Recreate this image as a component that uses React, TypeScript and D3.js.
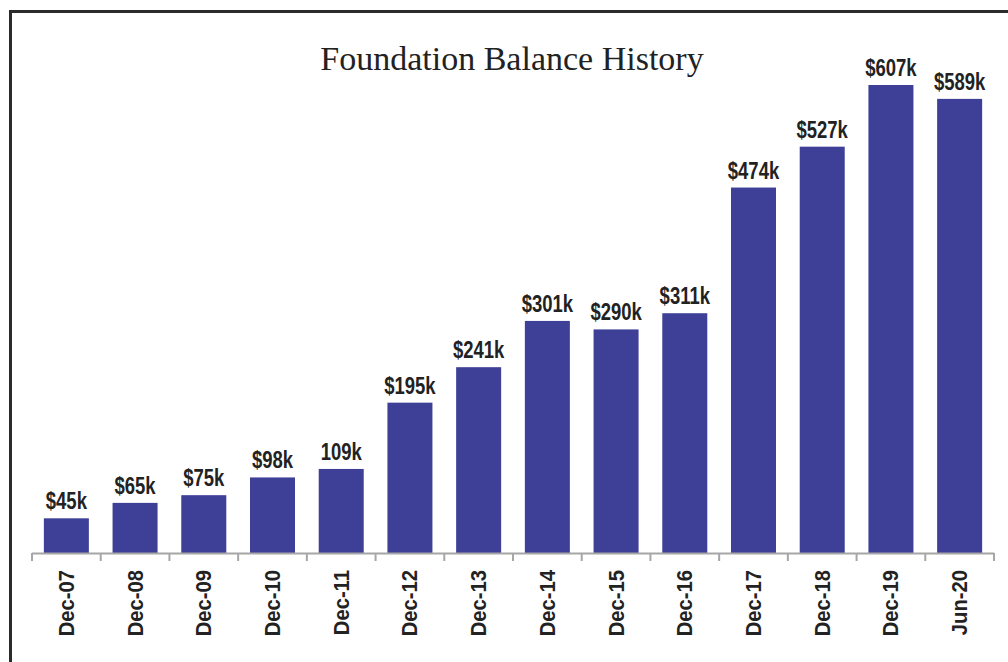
import React, { useEffect, useRef } from "react";
import * as d3 from "d3";

const categories = [
  "Dec-07", "Dec-08", "Dec-09", "Dec-10", "Dec-11", "Dec-12", "Dec-13",
  "Dec-14", "Dec-15", "Dec-16", "Dec-17", "Dec-18", "Dec-19", "Jun-20",
];
const balances = [45, 65, 75, 98, 109, 195, 241, 301, 290, 311, 474, 527, 607, 589];
const valueLabels = [
  "$45k", "$65k", "$75k", "$98k", "109k", "$195k", "$241k",
  "$301k", "$290k", "$311k", "$474k", "$527k", "$607k", "$589k",
];

const W = 1008;
const H = 662;
const labelFont = "'Liberation Sans', Arial, sans-serif";

const App = () => {
  const svgRef = useRef<SVGSVGElement>(null);

  useEffect(() => {
    if (!svgRef.current) return;
    const svg = d3.select(svgRef.current);
    svg.selectAll("*").remove();

    const x0 = 32;
    const x1 = 994;
    const yBase = 553;

    const xScale = d3
      .scaleBand()
      .domain(categories)
      .range([x0, x1])
      .paddingInner(0.345)
      .paddingOuter(0.1725);

    const yScale = d3.scaleLinear().domain([0, 607]).range([yBase, 85]);

    // frame (top and left only)
    svg
      .append("path")
      .attr("d", `M10.5,${H} L10.5,11.5 L${W},11.5`)
      .attr("fill", "none")
      .attr("stroke", "#2b2b2b")
      .attr("stroke-width", 3);

    // title
    svg
      .append("text")
      .attr("x", 512)
      .attr("y", 70)
      .attr("text-anchor", "middle")
      .style("font-family", "'Liberation Serif', 'DejaVu Serif', serif")
      .style("font-size", "34px")
      .style("fill", "#222")
      .text("Foundation Balance History");

    // bars
    svg
      .selectAll("rect.bar")
      .data(balances)
      .enter()
      .append("rect")
      .attr("class", "bar")
      .attr("x", (_, i) => xScale(categories[i]) as number)
      .attr("y", (d) => yScale(d))
      .attr("width", xScale.bandwidth())
      .attr("height", (d) => yBase - yScale(d))
      .attr("fill", "#3e3f97");

    // value labels (condensed)
    svg
      .selectAll("text.val")
      .data(balances)
      .enter()
      .append("text")
      .attr("class", "val")
      .attr("transform", (d, i) => {
        const cx = (xScale(categories[i]) as number) + xScale.bandwidth() / 2;
        return `translate(${cx},${yScale(d) - 9}) scale(0.77,1)`;
      })
      .attr("text-anchor", "middle")
      .style("font-family", labelFont)
      .style("font-weight", "bold")
      .style("font-size", "24px")
      .style("fill", "#222")
      .text((_, i) => valueLabels[i]);

    // x axis
    const step = xScale.step();
    const ticks = d3.range(categories.length + 1).map((i) => x0 + i * step);
    const axis = svg.append("g");
    axis
      .append("line")
      .attr("x1", x0)
      .attr("x2", x1)
      .attr("y1", yBase + 0.5)
      .attr("y2", yBase + 0.5)
      .attr("stroke", "#a6a6a6")
      .attr("stroke-width", 2);
    axis
      .selectAll("line.tick")
      .data(ticks)
      .enter()
      .append("line")
      .attr("class", "tick")
      .attr("x1", (d) => d)
      .attr("x2", (d) => d)
      .attr("y1", yBase)
      .attr("y2", yBase + 8)
      .attr("stroke", "#a6a6a6")
      .attr("stroke-width", 2);

    axis
      .selectAll("text.cat")
      .data(categories)
      .enter()
      .append("text")
      .attr("class", "cat")
      .attr("transform", (d) => {
        const cx = (xScale(d) as number) + xScale.bandwidth() / 2 + 7.5;
        return `translate(${cx},570) rotate(-90) scale(0.92,1)`;
      })
      .attr("text-anchor", "end")
      .style("font-family", labelFont)
      .style("font-weight", "bold")
      .style("font-size", "22px")
      .style("fill", "#222")
      .text((d) => d);
  }, []);

  return (
    <div style={{ position: "absolute", left: 0, top: 0, width: W, height: H, background: "#fff" }}>
      <svg ref={svgRef} width={W} height={H} style={{ display: "block" }}></svg>
    </div>
  );
};

export default App;
